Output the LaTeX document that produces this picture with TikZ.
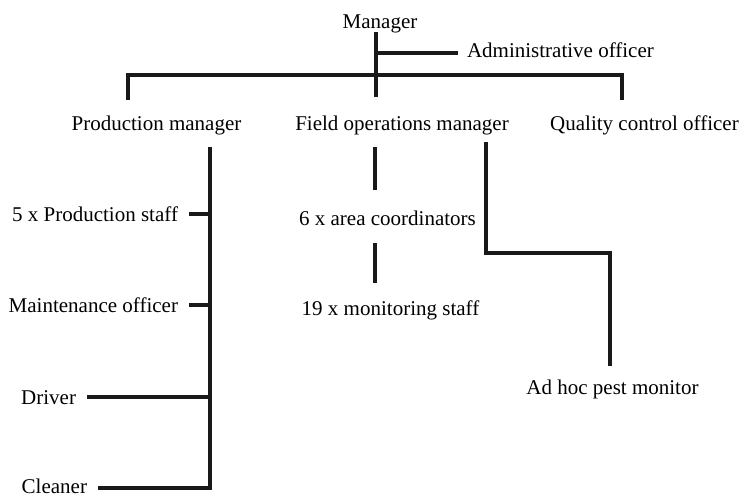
\documentclass[tikz,border=0pt]{standalone}
\usepackage{fontspec}
\setmainfont{Liberation Serif}
\begin{document}
\begin{tikzpicture}[x=1pt, y=-1pt,
    role/.style={inner sep=0pt, outer sep=0pt, font=\fontsize{21}{25}\selectfont, anchor=base},
    link/.style={line width=3.6pt, line join=miter, black!90}
]
    \useasboundingbox (0,0) rectangle (741,498);

    % Top level
    \node[role] (manager) at (380,28) {Manager};
    \node[role, anchor=base west] (admin) at (467,57) {Administrative officer};

    % Second level
    \node[role] (prod) at (156.5,130) {Production manager};
    \node[role] (field) at (402,130) {Field operations manager};
    \node[role] (quality) at (644.5,130) {Quality control officer};

    % Production staff
    \node[role, anchor=base east] (staff) at (178,221) {5 x Production staff};
    \node[role, anchor=base east] (maint) at (178,312) {Maintenance officer};
    \node[role, anchor=base east] (driver) at (76,404) {Driver};
    \node[role, anchor=base east] (cleaner) at (87,493) {Cleaner};

    % Field staff
    \node[role] (coord) at (387.5,225) {6 x area coordinators};
    \node[role] (monitor) at (390.5,315) {19 x monitoring staff};
    \node[role] (adhoc) at (612.5,394) {Ad hoc pest monitor};

    % Junctions
    \coordinate (mgrtop) at (376,32);
    \coordinate (mgrbot) at (376,97);
    \coordinate (adminjoin) at (376,53);
    \coordinate (barL) at (128,75);
    \coordinate (barR) at (622,75);
    \coordinate (prodtop) at (210,147);
    \coordinate (f1) at (375,147);
    \coordinate (f2) at (375,190);
    \coordinate (f3) at (375,243);
    \coordinate (f4) at (375,283);
    \coordinate (adtop) at (486,142);
    \coordinate (adturn) at (486,253);
    \coordinate (adbot) at (610,366);
    \path ([shift={(-9pt,4pt)}]admin.base west) coordinate (adminend);

    % Manager and officer
    \draw[link] (mgrtop) -- (mgrbot);
    \draw[link] (adminjoin) -- (adminend);

    % Bar to the three managers
    \draw[link] ([yshift=-25pt]barL) -- (barL) -- (barR) -- ([yshift=-25pt]barR);

    % Production branch
    \foreach \n in {staff,maint,driver}
        \path ([shift={(11pt,7pt)}]\n.base east) coordinate (\n-end);
    \path ([shift={(11pt,5pt)}]cleaner.base east) coordinate (cleaner-end);
    \draw[link] (prodtop) -- (cleaner-end -| prodtop) -- (cleaner-end);
    \foreach \n in {staff,maint,driver}
        \draw[link] (\n-end) -- (\n-end -| prodtop);

    % Field branch
    \draw[link] (f1) -- (f2);
    \draw[link] (f3) -- (f4);
    \draw[link] (adtop) -- (adturn) -| (adbot);
\end{tikzpicture}
\end{document}
